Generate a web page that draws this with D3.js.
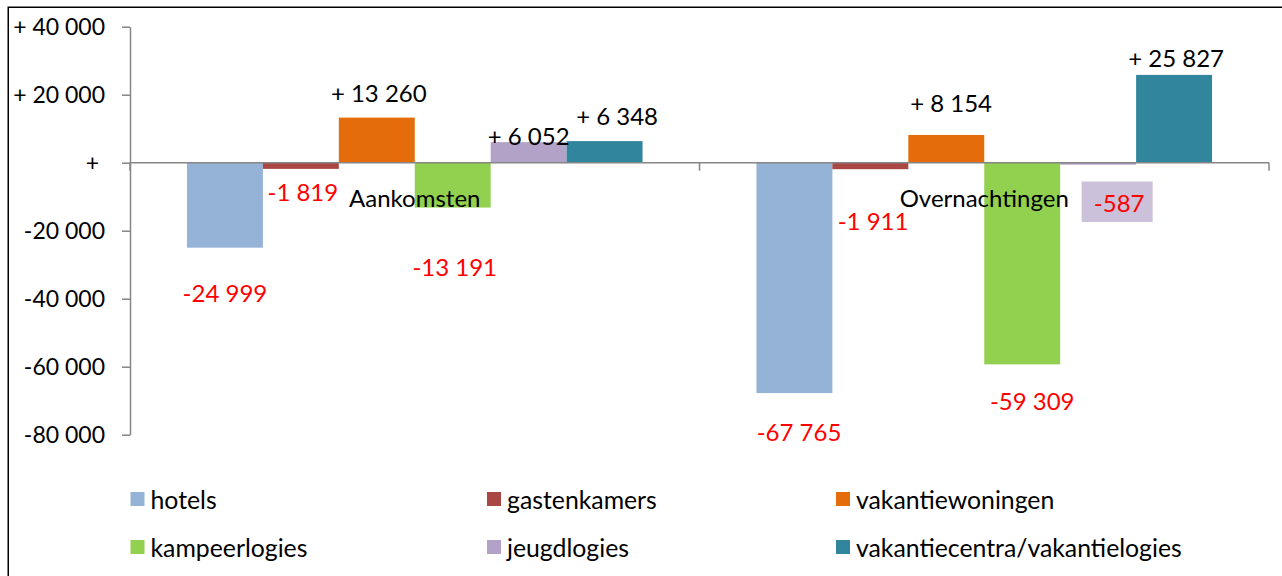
<!DOCTYPE html>
<html>
<head>
<meta charset="utf-8">
<script src="https://cdn.jsdelivr.net/npm/d3@7"></script>
<style>
  html, body { margin: 0; padding: 0; background: #fff; }
  svg { display: block; }
  text { font-family: Lato, "Liberation Sans", sans-serif; }
</style>
</head>
<body>
<div id="chart"></div>
<script>
// ---- data ----
const categories = ["Aankomsten", "Overnachtingen"];
const series = ["hotels", "gastenkamers", "vakantiewoningen", "kampeerlogies", "jeugdlogies", "vakantiecentra/vakantielogies"];
const seriesColors = ["#95B3D7", "#AA4643", "#E46C0A", "#92D050", "#B3A2C7", "#31859C"];
const aankomsten = [-24999, -1819, 13260, -13191, 6052, 6348];
const overnachtingen = [-67765, -1911, 8154, -59309, -587, 25827];
const yTicks = [40000, 20000, 0, -20000, -40000, -60000, -80000];
// label placement offsets (px) relative to bar centre / bar end, per category
const labelDx = [[0, 2, 2, 2, 0, 12.5], [4.6, 2.7, 4.8, 10, 21, 2]];
const labelDy = [[45, 23, -25.6, 58.5, -6.3, -26], [38, 51, -32.5, 36.4, 38.3, -17]];
const labelBoxed = [[false, false, false, false, false, false], [false, false, false, false, true, false]];

const values = [aankomsten, overnachtingen];

const W = 1282, H = 576;
const svg = d3.select("#chart").append("svg").attr("width", W).attr("height", H);

// outer border
svg.append("rect").attr("x", 8.25).attr("y", 7.25).attr("width", W + 20).attr("height", H + 20)
  .attr("fill", "#fff").attr("stroke", "#000").attr("stroke-width", 1.5);

const plotLeft = 130, plotRight = 1269, yTop = 26.7, yBottom = 434.7;

const y = d3.scaleLinear().domain([-80000, 40000]).range([yBottom, yTop]);
const x0 = d3.scaleBand().domain(categories).range([plotLeft, plotRight]).paddingInner(0).paddingOuter(0);
const x1 = d3.scaleBand().domain(series).range([0, x0.bandwidth()]).paddingInner(0).paddingOuter(0.75);
const color = d3.scaleOrdinal().domain(series).range(seriesColors);

function fmt(v) {
  const s = d3.format(",")(Math.abs(v)).replace(/,/g, " ");
  if (v === 0) return "+\u00A0";
  return v > 0 ? "+ " + s : "-" + s;
}

const axisColor = "#868686";
const fontSize = 24;
const legendFontSize = 24.8;

// bars
categories.forEach((c, ci) => {
  const g = svg.append("g").attr("transform", `translate(${x0(c)},0)`);
  g.selectAll("rect").data(series).join("rect")
    .attr("x", s => x1(s))
    .attr("width", x1.bandwidth())
    .attr("y", (s, i) => y(Math.max(0, values[ci][i])))
    .attr("height", (s, i) => Math.abs(y(values[ci][i]) - y(0)))
    .attr("fill", s => color(s));
});

// y axis
const yAxis = d3.axisLeft(y).tickValues(yTicks).tickFormat(fmt).tickSize(8).tickPadding(17).tickSizeOuter(0);
const ya = svg.append("g").attr("transform", `translate(${plotLeft},0)`).call(yAxis);
ya.select(".domain").attr("stroke", axisColor).attr("stroke-width", 1.5);
ya.selectAll(".tick line").attr("stroke", axisColor).attr("stroke-width", 1.5);
ya.selectAll(".tick text").attr("fill", "#000").style("font-size", "23px")
  .style("font-family", "Lato, 'Liberation Sans', sans-serif").attr("dy", "0.35em");

// category axis at zero
const zeroY = y(0);
svg.append("line").attr("x1", plotLeft).attr("x2", plotRight).attr("y1", zeroY).attr("y2", zeroY)
  .attr("stroke", axisColor).attr("stroke-width", 1.5);
const bounds = categories.map(c => x0(c)).concat([x0(categories[categories.length - 1]) + x0.bandwidth()]);
svg.selectAll(".cattick").data(bounds).join("line").attr("class", "cattick")
  .attr("x1", d => d).attr("x2", d => d).attr("y1", zeroY).attr("y2", zeroY + 8)
  .attr("stroke", axisColor).attr("stroke-width", 1.5);
svg.selectAll(".catlabel").data(categories).join("text").attr("class", "catlabel")
  .attr("x", c => x0(c) + x0.bandwidth() / 2).attr("y", zeroY + 34.5)
  .attr("text-anchor", "middle").attr("dominant-baseline", "central")
  .style("font-size", fontSize + "px").attr("fill", "#000").text(c => c);

// value labels
categories.forEach((c, ci) => {
  series.forEach((s, si) => {
    const v = values[ci][si];
    const cx = x0(c) + x1(s) + x1.bandwidth() / 2 + labelDx[ci][si];
    const cy = y(v) + labelDy[ci][si];
    if (labelBoxed[ci][si]) {
      svg.append("rect").attr("x", cx - 37.5).attr("y", cy - 21.5).attr("width", 71).attr("height", 40.5)
        .attr("fill", "#CCC1DA");
    }
    svg.append("text").attr("x", cx).attr("y", cy)
      .attr("text-anchor", "middle").attr("dominant-baseline", "central")
      .style("font-size", fontSize + "px")
      .attr("fill", v < 0 ? "#FF0000" : "#000")
      .text(fmt(v));
  });
});

// legend
const legendCols = [130.5, 487, 836];
const legendRows = [499, 547];
const lg = svg.append("g");
series.forEach((s, i) => {
  const lx = legendCols[i % 3], ly = legendRows[Math.floor(i / 3)];
  lg.append("rect").attr("x", lx).attr("y", ly - 7).attr("width", 14).attr("height", 14).attr("fill", color(s));
  lg.append("text").attr("x", lx + 20).attr("y", ly).attr("dominant-baseline", "central")
    .style("font-size", legendFontSize + "px").attr("fill", "#000").text(s);
});
</script>
</body>
</html>
